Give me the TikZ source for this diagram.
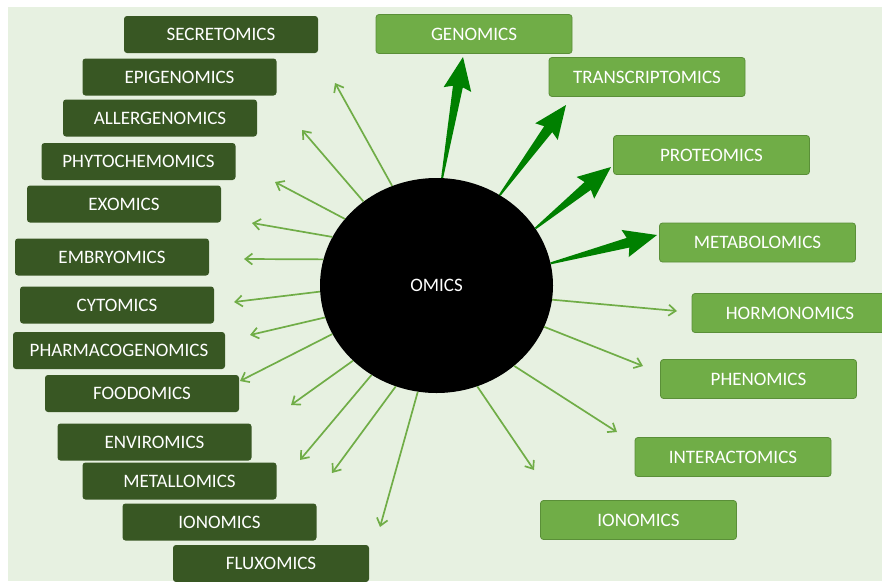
\documentclass[tikz,border=0pt]{standalone}
\usepackage{fontspec}
\setmainfont{Carlito}
\usepackage{tikz}
\usetikzlibrary{shapes.geometric}
\usetikzlibrary{arrows.meta}
\usetikzlibrary{calc}

\definecolor{bggreen}{HTML}{E7F1E1}
\definecolor{darkgreen}{HTML}{385723}
\definecolor{lightgreen}{HTML}{70AD47}
\definecolor{edgegreen}{HTML}{5A8F38}
\definecolor{fatgreen}{HTML}{008000}

% tapered block arrow from #1 to #2
\newcommand{\fatarrow}[2]{%
	\fill[fatgreen] ($(#1)!1pt!90:(#2)$) -- ($(#2)!30pt!(#1)!5pt!90:(#2)$)
		-- ($(#2)!33pt!(#1)!14pt!90:(#2)$) -- (#2)
		-- ($(#2)!33pt!(#1)!14pt!-90:(#2)$) -- ($(#2)!30pt!(#1)!5pt!-90:(#2)$)
		-- ($(#1)!1pt!-90:(#2)$) -- cycle;}

\begin{document}
\begin{tikzpicture}[x=1pt, y=-1pt,
	darkbox/.style={fill=darkgreen, text=white, rounded corners=3pt, minimum width=194pt, minimum height=37pt, inner sep=0pt},
	lightbox/.style={fill=lightgreen, draw=edgegreen, line width=0.8pt, text=white, rounded corners=3pt, minimum width=196pt, minimum height=39pt, inner sep=0pt},
	thinarrow/.style={draw=lightgreen, line width=1.7pt, -{Straight Barb[length=7pt,width=11pt]}},
	font=\fontsize{19}{22}\selectfont]
	\useasboundingbox (0,0) rectangle (882,581);
	\fill[white] (0,0) rectangle (882,581);
	\fill[bggreen] (8,7) rectangle (882,581);

	\node[ellipse, fill=black, text=white, minimum width=233pt, minimum height=215pt, inner sep=0pt] (omics) at (436.5,285.5) {OMICS};

	% left column
	\node[darkbox] (secretomics) at (221,34.5) {SECRETOMICS};
	\node[darkbox] (epigenomics) at (179.5,77) {EPIGENOMICS};
	\node[darkbox] (allergenomics) at (160,118) {ALLERGENOMICS};
	\node[darkbox] (phytochemomics) at (138.5,161.5) {PHYTOCHEMOMICS};
	\node[darkbox] (exomics) at (124,204) {EXOMICS};
	\node[darkbox] (embryomics) at (112,257) {EMBRYOMICS};
	\node[darkbox] (cytomics) at (117,305) {CYTOMICS};
	\node[darkbox, minimum width=212pt] (pharmaco) at (119,350.5) {PHARMACOGENOMICS};
	\node[darkbox] (foodomics) at (142,393.5) {FOODOMICS};
	\node[darkbox] (enviromics) at (154.5,442) {ENVIROMICS};
	\node[darkbox] (metallomics) at (179.5,481) {METALLOMICS};
	\node[darkbox] (ionomicsL) at (219.5,522) {IONOMICS};
	\node[darkbox, minimum width=196pt] (fluxomics) at (271,563.5) {FLUXOMICS};

	% right column
	\node[lightbox] (genomics) at (474,34) {GENOMICS};
	\node[lightbox] (transcriptomics) at (647,77) {TRANSCRIPTOMICS};
	\node[lightbox] (proteomics) at (711.5,155) {PROTEOMICS};
	\node[lightbox] (metabolomics) at (757.5,242.5) {METABOLOMICS};
	\node[lightbox] (hormonomics) at (790,313) {HORMONOMICS};
	\node[lightbox] (phenomics) at (758.5,379) {PHENOMICS};
	\node[lightbox] (interactomics) at (733,457) {INTERACTOMICS};
	\node[lightbox] (ionomicsR) at (638.5,520) {IONOMICS};

	% arrow tips
	\coordinate (g) at (463,57);
	\coordinate (t) at (566,105);
	\coordinate (p) at (611,167);
	\coordinate (m) at (657,235);
	\coordinate (r1) at (677,311);
	\coordinate (r2) at (643,366);
	\coordinate (r3) at (617,432);
	\coordinate (r4) at (534,470);
	\coordinate (l1) at (335,83);
	\coordinate (l2) at (302,130);
	\coordinate (l3) at (275,182);
	\coordinate (l4) at (252,223);
	\coordinate (l5) at (244,259);
	\coordinate (l6) at (234,302);
	\coordinate (l7) at (250,335);
	\coordinate (l8) at (240,381);
	\coordinate (l9) at (291,405);
	\coordinate (l10) at (300,460);
	\coordinate (l11) at (332,473);
	\coordinate (l12) at (380,527);

	\fatarrow{omics.87}{g}
	\fatarrow{omics.55}{t}
	\fatarrow{omics.30}{p}
	\fatarrow{omics.11}{m}

	\draw[thinarrow] (omics.-7) -- (r1);
	\draw[thinarrow] (omics.-21) -- (r2);
	\draw[thinarrow] (omics.-46) -- (r3);
	\draw[thinarrow] (omics.-68) -- (r4);

	\draw[thinarrow] (omics.114) -- (l1);
	\draw[thinarrow] (omics.131) -- (l2);
	\draw[thinarrow] (omics.144) -- (l3);
	\draw[thinarrow] (omics.155) -- (l4);
	\draw[thinarrow] (omics.167) -- (l5);
	\draw[thinarrow] (omics.183) -- (l6);
	\draw[thinarrow] (omics.196) -- (l7);
	\draw[thinarrow] (omics.205) -- (l8);
	\draw[thinarrow] (omics.222) -- (l9);
	\draw[thinarrow] (omics.234) -- (l10);
	\draw[thinarrow] (omics.248) -- (l11);
	\draw[thinarrow] (omics.260) -- (l12);
\end{tikzpicture}
\end{document}
